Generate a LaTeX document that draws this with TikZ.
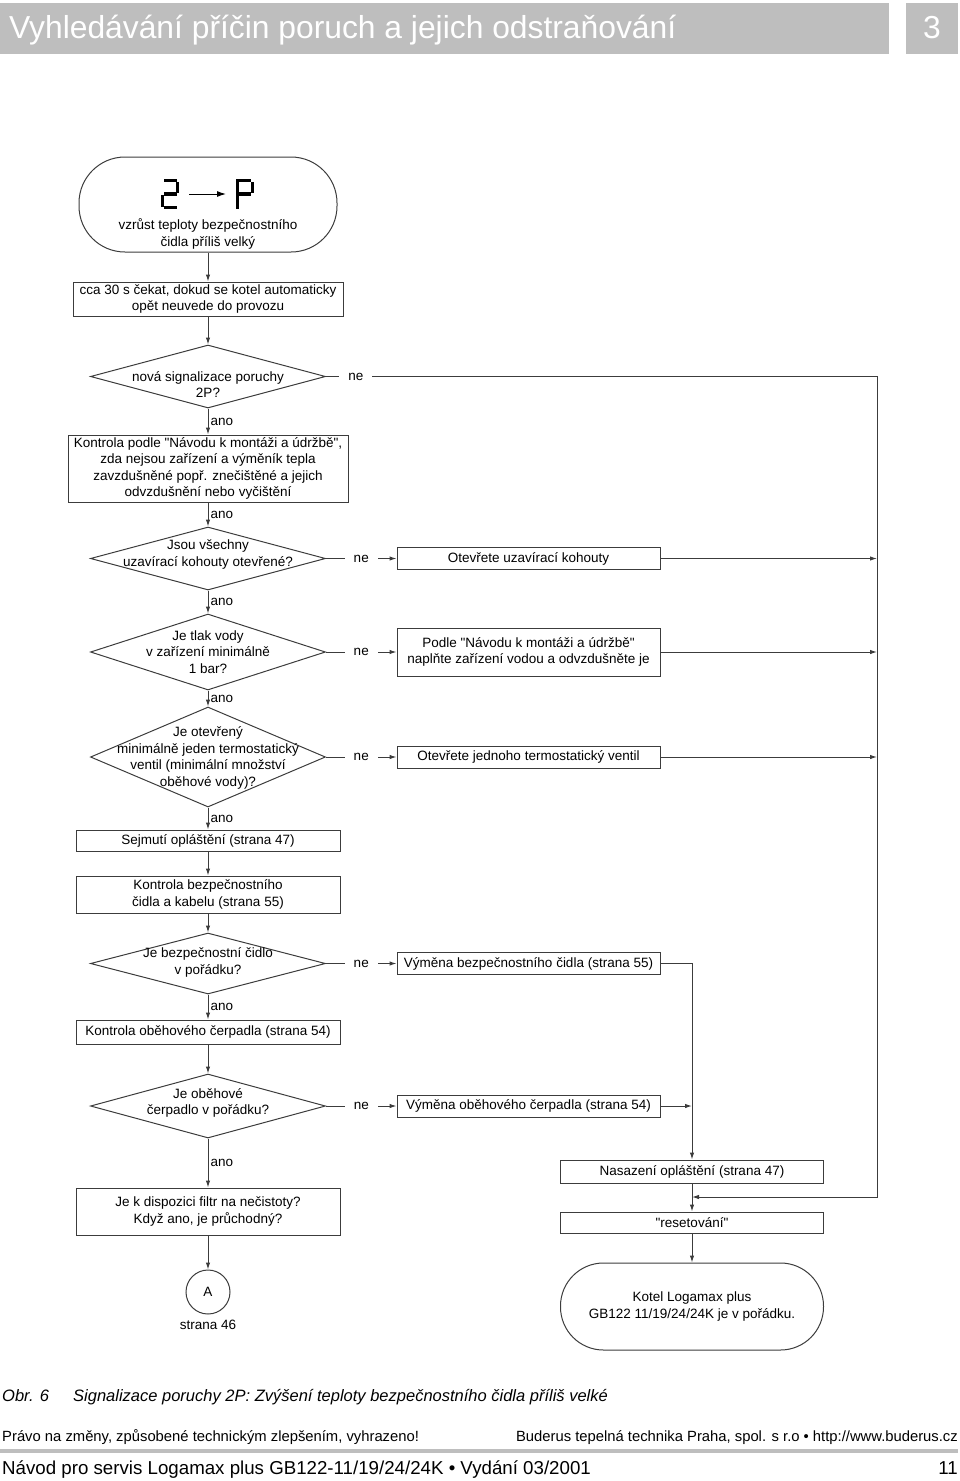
\documentclass[tikz,border=0pt]{standalone}
\usepackage{fontspec}
\setmainfont{Liberation Sans}
\usetikzlibrary{positioning, shapes.geometric, arrows.meta}

\definecolor{hdrgray}{RGB}{190,190,190}
\definecolor{linegray}{RGB}{60,60,60}
\newcommand\flowfont{\fontsize{13.5}{16.5}\selectfont}

\begin{document}
\begin{tikzpicture}[
x=1pt, y=-1pt,
box/.style={rectangle,
  draw=linegray,
  line width=1pt,
  align=center,
  inner sep=0pt,
  font=\flowfont
},
decision/.style={diamond,
  draw=linegray,
  line width=1pt,
  inner sep=0pt,
  minimum width=235pt
},
term/.style={rectangle,
  draw=linegray,
  line width=1pt,
  rounded corners=#1,
  align=center,
  inner sep=0pt,
  font=\flowfont
},
txt/.style={align=center, inner sep=0pt, font=\flowfont},
nelbl/.style={fill=white, inner xsep=9pt, inner ysep=2pt, font=\flowfont},
anolbl/.style={right, inner sep=2pt, font=\flowfont},
conn/.style={->, draw=linegray, line width=1pt},
seg/.style={line width=3.2pt, line cap=butt},
>={Latex[length=7pt,width=4.5pt]}
]
\useasboundingbox (0,0) rectangle (960,1481);

% header
\fill[hdrgray] (0,3) rectangle (889,54);
\fill[hdrgray] (906,3) rectangle (958,54);
\node[anchor=base west, inner sep=0pt, text=white, font=\fontsize{31.8}{36}\selectfont] (title) at (9,38)
    {Vyhledávání příčin poruch a jejich odstraňování};
\node[anchor=base, inner sep=0pt, text=white, font=\fontsize{31.8}{36}\selectfont] (chap) at (932,38)
    {3};

% main column
\node[term=46pt, minimum width=258pt, minimum height=95pt] (start) at (208,204.5)
    {};
\node[txt] (starttxt) at (208,234)
    {vzrůst teploty bezpečnostního\\čidla příliš velký};
\draw[seg] (164,180.5) -- (176.5,180.5) (177.5,182) -- (177.5,193) (164,194) -- (176.5,194)
    (162.5,195) -- (162.5,206.5) (164,207.5) -- (176.5,207.5);
\draw[seg] (237.5,179) -- (237.5,209) (239,180.5) -- (251,180.5) (252.5,182) -- (252.5,193) (239,194) -- (251,194);
\draw[-{Latex[length=9pt,width=6pt]}, line width=1pt] (189,194) -- (226,194);

\node[box, minimum width=270pt, minimum height=34pt, below=29pt of start] (wait)
    {cca 30 s čekat, dokud se kotel automaticky\\opět neuvede do provozu};
\node[decision, minimum height=63pt, below=28pt of wait] (q1)
    {};
\node[txt] (q1txt) at ([yshift=-8pt]q1.center)
    {nová signalizace poruchy\\2P?};
\node[box, minimum width=280pt, minimum height=67pt, below=26pt of q1] (check)
    {Kontrola podle \textquotedbl Návodu k montáži a údržbě\textquotedbl,\\zda nejsou zařízení a výměník tepla\\zavzdušněné popř. znečištěné a jejich\\odvzdušnění nebo vyčištění};
\node[decision, minimum height=63pt, below=24pt of check] (q2)
    {};
\node[txt] (q2txt) at ([yshift=4pt]q2.center)
    {Jsou všechny\\uzavírací kohouty otevřené?};
\node[decision, minimum height=76pt, below=23pt of q2] (q3)
    {};
\node[txt] (q3txt) at (q3.center)
    {Je tlak vody\\v zařízení minimálně\\1 bar?};
\node[decision, minimum height=100pt, below=16pt of q3] (q4)
    {};
\node[txt] (q4txt) at ([yshift=-1pt]q4.center)
    {Je otevřený\\minimálně jeden termostatický\\ventil (minimální množství\\oběhové vody)?};
\node[box, minimum width=264pt, minimum height=21pt, below=22pt of q4] (cover)
    {Sejmutí opláštění (strana 47)};
\node[box, minimum width=264pt, minimum height=37pt, below=24pt of cover] (sensor)
    {Kontrola bezpečnostního\\čidla a kabelu (strana 55)};
\node[decision, minimum height=61pt, below=19pt of sensor] (q5)
    {};
\node[txt] (q5txt) at ([yshift=1pt]q5.center)
    {Je bezpečnostní čidlo\\v pořádku?};
\node[box, minimum width=264pt, minimum height=24pt, below=25pt of q5] (pump)
    {Kontrola oběhového čerpadla (strana 54)};
\node[decision, minimum height=64pt, below=29pt of pump] (q6)
    {};
\node[txt] (q6txt) at ([yshift=3pt]q6.center)
    {Je oběhové\\čerpadlo v pořádku?};
\node[box, minimum width=264pt, minimum height=47pt, below=49pt of q6] (filter)
    {Je k dispozici filtr na nečistoty?\\Když ano, je průchodný?};
\node[circle, draw=linegray, line width=1pt, minimum size=44pt, inner sep=0pt, font=\flowfont, below=34pt of filter] (pageA)
    {A};
\node[txt, below=5pt of pageA] (pageAtxt)
    {strana 46};

% right column
\node[box, minimum width=263pt, minimum height=22pt, right=70.5pt of q2] (fix2)
    {Otevřete uzavírací kohouty};
\node[box, minimum width=263pt, minimum height=48pt, right=70.5pt of q3] (fix3)
    {Podle \textquotedbl Návodu k montáži a údržbě\textquotedbl\\naplňte zařízení vodou a odvzdušněte je};
\node[box, minimum width=263pt, minimum height=22pt, right=70.5pt of q4] (fix4)
    {Otevřete jednoho termostatický ventil};
\node[box, minimum width=263pt, minimum height=22pt, right=70.5pt of q5] (fix5)
    {Výměna bezpečnostního čidla (strana 55)};
\node[box, minimum width=263pt, minimum height=22pt, right=70.5pt of q6] (fix6)
    {Výměna oběhového čerpadla (strana 54)};
\node[box, minimum width=263pt, minimum height=23pt] (cover2) at (692,1171.5)
    {Nasazení opláštění (strana 47)};
\node[box, minimum width=263pt, minimum height=21pt, below=28pt of cover2] (reset)
    {\textquotedbl resetování\textquotedbl};
\node[term=43pt, minimum width=263pt, minimum height=87pt, below=29pt of reset] (ok)
    {Kotel Logamax plus\\GB122 11/19/24/24K je v pořádku.};
\coordinate (rail) at (877,1197);

% connectors
\draw[conn] (start) -- (wait);
\draw[conn] (wait) -- (q1);
\draw[conn] (q1) -- node[anolbl]{ano} (check);
\draw[conn] (check) -- node[anolbl]{ano} (q2);
\draw[conn] (q2) -- node[anolbl]{ano} (q3);
\draw[conn] (q3) -- node[anolbl]{ano} (q4);
\draw[conn] (q4) -- node[anolbl]{ano} (cover);
\draw[conn] (cover) -- (sensor);
\draw[conn] (sensor) -- (q5);
\draw[conn] (q5) -- node[anolbl]{ano} (pump);
\draw[conn] (pump) -- (q6);
\draw[conn] (q6) -- node[anolbl]{ano} (filter);
\draw[conn] (filter) -- (pageA);

\draw[conn] (q1.east) -- node[nelbl, pos=0.054]{ne} (q1.east -| rail) -- (rail) -- (rail -| reset.north);
\draw[conn] (q2) -- node[nelbl]{ne} (fix2);
\draw[conn] (q3) -- node[nelbl]{ne} (fix3);
\draw[conn] (q4) -- node[nelbl]{ne} (fix4);
\draw[conn] (q5) -- node[nelbl]{ne} (fix5);
\draw[conn] (q6) -- node[nelbl]{ne} (fix6);
\draw[conn] (fix2) -- (fix2 -| rail);
\draw[conn] (fix3) -- (fix3 -| rail);
\draw[conn] (fix4) -- (fix4 -| rail);
\draw[conn] (fix5) -| (cover2);
\draw[conn] (fix6) -- (fix6 -| cover2);
\draw[conn] (cover2) -- (reset);
\draw[conn] (reset) -- (ok);

% caption and footer
\node[anchor=base west, inner sep=0pt, font=\fontsize{16.5}{19}\selectfont\itshape] (fig) at (2,1401)
    {Obr. 6};
\node[anchor=base west, inner sep=0pt, font=\fontsize{16.5}{19}\selectfont\itshape] (caption) at (73,1401)
    {Signalizace poruchy 2P: Zvýšení teploty bezpečnostního čidla příliš velké};
\node[anchor=base west, inner sep=0pt, font=\fontsize{14.8}{17}\selectfont] (rights) at (2,1441)
    {Právo na změny, způsobené technickým zlepšením, vyhrazeno!};
\node[anchor=base east, inner sep=0pt, font=\fontsize{14.8}{17}\selectfont] (firm) at (958,1441)
    {Buderus tepelná technika Praha, spol. s r.o • http://www.buderus.cz};
\draw[hdrgray, line width=4pt] (0,1450.5) -- (958,1450.5);
\node[anchor=base west, inner sep=0pt, font=\fontsize{18.7}{22}\selectfont] (manual) at (2,1474)
    {Návod pro servis Logamax plus GB122-11/19/24/24K • Vydání 03/2001};
\node[anchor=base east, inner sep=0pt, font=\fontsize{18.7}{22}\selectfont] (pageno) at (958,1474)
    {11};
\end{tikzpicture}
\end{document}
